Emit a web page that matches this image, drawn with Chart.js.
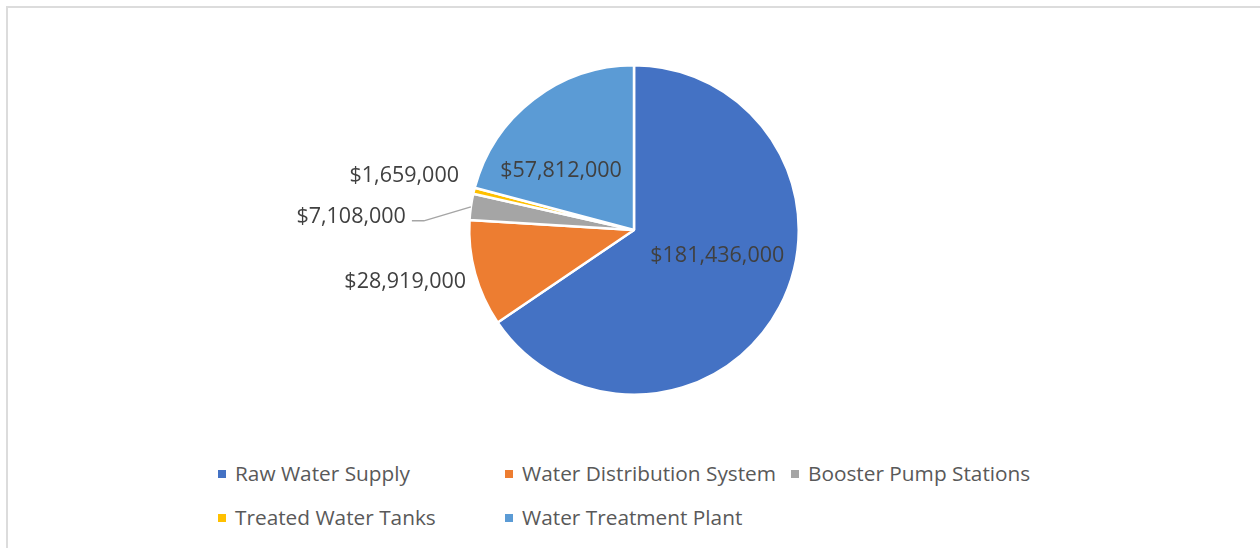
<!DOCTYPE html>
<html>
<head>
<meta charset="utf-8">
<script src="https://cdn.jsdelivr.net/npm/chart.js@4/dist/chart.umd.min.js"></script>
<style>
  html, body { margin: 0; padding: 0; background: #fff; }
  body { width: 1260px; height: 548px; position: relative; overflow: hidden; font-family: "Open Sans", sans-serif; }
  #frame { position: absolute; left: 6px; top: 6px; width: 1300px; height: 600px; border-left: 2px solid #dcdcdc; border-top: 2px solid #dcdcdc; }
  #wrap { position: absolute; left: 0; top: 0; width: 1260px; height: 440px; }
  #legend { position: absolute; left: 218px; top: 459px; display: grid; grid-template-columns: 287px 286px 300px; row-gap: 16px; }
  .item { display: flex; align-items: center; height: 28px; font-size: 20.8px; color: #595959; white-space: nowrap; }
  .sw { width: 8px; height: 8px; margin-right: 9px; margin-top: 1px; }
</style>
</head>
<body>
<div id="frame"></div>
<div id="wrap"><canvas id="pie"></canvas></div>
<div id="legend"></div>
<script>
// categories and costs, clockwise from 12 o'clock
const categories = ['Raw Water Supply', 'Water Distribution System', 'Booster Pump Stations', 'Treated Water Tanks', 'Water Treatment Plant'];
const costs = [181436000, 28919000, 7108000, 1659000, 57812000];
const colors = ['#4472C4', '#ED7D31', '#A5A5A5', '#FFC000', '#5B9BD5'];

// where each value label goes: inside (angle in deg, fraction of radius) or outside (offset from rim)
const labelSpots = [
  { inside: true, angle: 17.5, r: 0.53 },
  { inside: false, dx: -9, dy: 8 },
  { inside: false, dx: -60, dy: -9, leader: true },
  { inside: false, dx: -15, dy: -15 },
  { inside: true, angle: -141, r: 0.57 }
];

const money = v => '$' + v.toLocaleString('en-US');

const valueLabels = {
  id: 'valueLabels',
  afterDatasetsDraw(chart) {
    const ctx = chart.ctx;
    const arcs = chart.getDatasetMeta(0).data;
    ctx.save();
    ctx.font = '21.5px "Open Sans"';
    ctx.fillStyle = '#404040';
    ctx.textBaseline = 'middle';
    arcs.forEach((arc, i) => {
      const spot = labelSpots[i];
      const { x, y, startAngle, endAngle, outerRadius } = arc.getProps(['x', 'y', 'startAngle', 'endAngle', 'outerRadius'], true);
      const text = money(costs[i]);
      if (spot.inside) {
        const a = spot.angle * Math.PI / 180;
        ctx.textAlign = 'center';
        ctx.fillText(text, x + Math.cos(a) * outerRadius * spot.r, y + Math.sin(a) * outerRadius * spot.r);
        return;
      }
      const mid = (startAngle + endAngle) / 2;
      const rx = x + Math.cos(mid) * outerRadius;
      const ry = y + Math.sin(mid) * outerRadius;
      ctx.textAlign = 'right';
      if (spot.leader) {
        const ex = rx + spot.dx + 13, ey = ry + 14;
        ctx.strokeStyle = '#a5a5a5';
        ctx.lineWidth = 1.5;
        ctx.beginPath();
        ctx.moveTo(rx, ry);
        ctx.lineTo(ex, ey);
        ctx.lineTo(ex - 12, ey);
        ctx.stroke();
        ctx.fillText(text, ex - 18, ey - 4);
      } else {
        ctx.fillText(text, rx + spot.dx, ry + spot.dy);
      }
    });
    ctx.restore();
  }
};

new Chart(document.getElementById('pie'), {
  type: 'pie',
  data: {
    labels: categories,
    datasets: [{
      data: costs,
      backgroundColor: colors,
      borderColor: '#ffffff',
      borderWidth: 2.5
    }]
  },
  options: {
    responsive: true,
    maintainAspectRatio: false,
    animation: false,
    layout: { padding: { top: 64, bottom: 44, left: 300, right: 292 } },
    plugins: { legend: { display: false }, tooltip: { enabled: false } }
  },
  plugins: [valueLabels]
});

// legend in rows of three
const legend = document.getElementById('legend');
categories.forEach((name, i) => {
  const item = document.createElement('div');
  item.className = 'item';
  item.innerHTML = '<span class="sw" style="background:' + colors[i] + '"></span>' + name;
  legend.appendChild(item);
});
</script>
</body>
</html>
